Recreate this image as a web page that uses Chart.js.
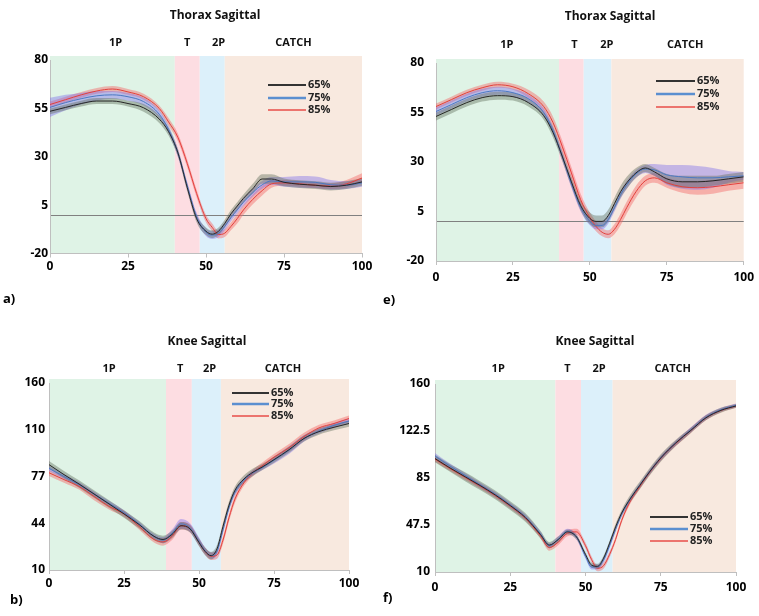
<!DOCTYPE html>
<html>
<head>
<meta charset="utf-8">
<script src="https://cdn.jsdelivr.net/npm/chart.js@4.4.1/dist/chart.umd.min.js"></script>
<style>
  body { margin:0; background:#fff; width:759px; height:616px; overflow:hidden; position:relative; }
  canvas { position:absolute; }
</style>
</head>
<body>
<canvas id="a" width="380" height="310" style="left:0;top:0;"></canvas>
<canvas id="e" width="379" height="310" style="left:380px;top:0;"></canvas>
<canvas id="b" width="380" height="306" style="left:0;top:310px;"></canvas>
<canvas id="f" width="379" height="306" style="left:380px;top:310px;"></canvas>
<script>
// % of stroke cycle (x values shared by every curve)
const PCT = [0, 5, 10, 15, 20, 25, 30, 35, 38, 41, 44, 47, 50, 52, 54, 56, 58, 60, 62, 65, 68, 71, 75, 80, 85, 90, 95, 100];

const SERIES_NAMES = ['65%', '75%', '85%'];
const PHASE_NAMES = ['1P', 'T', '2P', 'CATCH'];

// phase boundaries (% cycle) per panel
const A_PHASES = [0, 40, 48, 56, 100];
const E_PHASES = [0, 40, 48, 57, 100];
const B_PHASES = [0, 39, 47.6, 57.3, 100];
const F_PHASES = [0, 40, 48.5, 59, 100];

// a) Thorax sagittal
const A_65 = [53.5, 55.5, 57.5, 58.8, 58.8, 57.5, 55.3, 49.5, 43, 32, 14, -2, -8.5, -10, -8.5, -4.5, 0.5, 4.5, 8.5, 13.5, 18.5, 18.5, 16.8, 15.8, 15.3, 14.6, 15.3, 17];
const A_75 = [55.5, 58, 60, 61.5, 62, 61, 58.5, 52, 44, 32, 15, -1, -9, -10.5, -9.5, -6, -1.5, 2.5, 6.5, 11.5, 15.5, 17.5, 17, 17, 16.8, 15.5, 15.3, 16.5];
const A_85 = [57, 59.5, 62, 64, 65, 63.5, 61, 55, 48, 40, 26.5, 11, -2, -6.5, -10.2, -9.5, -6, -2, 2.5, 8, 12.5, 16, 16.5, 16, 15.3, 14.8, 16, 19];
const A_65_SD = [1.5, 1.5, 1.5, 1.5, 1.5, 1.5, 2, 2, 2, 2, 2, 2, 2, 2, 2, 2, 2, 2, 2, 2.5, 2.5, 2.5, 2, 2, 2, 2, 2, 2];
const A_75_SD = [5, 4, 3, 2.5, 2, 2, 2, 2, 2, 2, 2, 2, 2, 2, 2, 2, 2, 2, 2, 2, 2, 2, 2.5, 3, 3, 2.5, 2, 2];
const A_85_SD = [1.5, 1.5, 1.5, 1.5, 1.5, 1.5, 1.5, 1.5, 2, 2, 2, 2, 2, 2, 2, 2, 2, 2.5, 2.5, 2.5, 2.5, 2, 1.5, 1.5, 1.5, 1.5, 2, 2.5];

// e) Thorax sagittal
const E_65 = [53, 56.5, 60, 62.5, 63.5, 63, 60, 53.4, 45, 33, 20, 8, 1.5, 0, 0, 3, 9, 15, 19.5, 24.5, 27, 25, 21.5, 20, 20, 20.5, 21.5, 22.5];
const E_75 = [55.5, 59, 62.5, 65, 66, 65, 62, 55, 46, 33, 19, 7, 0, -2, -2, 1, 7, 13.5, 18.5, 24, 26.5, 26, 23.5, 22.5, 22, 22, 22.5, 23];
const E_85 = [58, 61.5, 65, 67.5, 69, 68, 64.5, 58, 50, 38, 24.5, 11, 2, -2.5, -5.5, -6.5, -4, 1, 7, 15, 20.5, 22, 19.5, 17.5, 17, 17.5, 18.5, 19.5];
const E_65_SD = [2, 2, 2, 2, 2, 2, 2, 2, 2.5, 2.5, 2.5, 2.5, 3, 3, 3, 3, 3, 3, 3, 2.5, 2, 2, 2.5, 3, 3, 2.5, 2.5, 2.5];
const E_75_SD = [2, 2, 2, 2, 2, 2, 2, 2, 2, 2, 2, 2, 2, 2, 2, 2, 2, 2, 2, 2, 2, 3, 5, 6, 6, 5, 3, 2];
const E_85_SD = [1.5, 1.5, 1.5, 1.5, 1.5, 1.5, 2, 2.5, 3, 3, 3, 3, 2.5, 2.5, 2, 2, 2.5, 3, 3, 3, 2.5, 2.5, 2.5, 3, 3.5, 3.5, 3, 3];

// b) Knee sagittal
const B_65 = [94.5, 86.5, 79, 71, 63, 55, 46.5, 37, 34.5, 38.5, 45.5, 43, 32, 25, 21.5, 27, 45, 62, 74, 83, 88.5, 92.5, 98.5, 106.5, 115.5, 121, 124.5, 127.5];
const B_75 = [91.5, 85, 78.5, 71, 63.5, 56, 47, 37, 34, 39.5, 47, 44, 33, 25.5, 21.5, 25, 42, 60, 72.5, 82, 88, 92, 98, 106, 115.5, 121.5, 126, 129.5];
const B_85 = [88, 82.5, 77, 69, 61, 55, 45, 34.5, 32.5, 37, 45.5, 43.5, 32.5, 25, 21, 22, 34, 52, 67, 80, 88, 93.5, 100.5, 108, 117, 124, 127.5, 131.5];
const B_65_SD = [3, 3, 3, 3, 3, 3, 3, 3, 3, 3, 3, 3, 3, 3, 3, 3, 3, 3, 3, 3, 3, 2.5, 2.5, 2.5, 2.5, 2.5, 2.5, 2.5];
const B_75_SD = [2, 2, 2, 2, 2, 2, 2, 2, 2.5, 3, 4, 3.5, 3, 2.5, 2.5, 2.5, 2.5, 2.5, 2.5, 2, 2, 2, 2.5, 3, 2.5, 2, 2, 2];
const B_85_SD = [2.5, 2.5, 2.5, 3, 2.5, 2.5, 2.5, 2.5, 3, 3, 3, 3, 3, 3, 3, 3, 3, 3, 3, 2.5, 2.5, 2.5, 2.5, 3, 3, 2.5, 2.5, 2.5];

// f) Knee sagittal
const F_65 = [100.5, 93, 86, 79, 71.5, 63, 53.5, 40, 31.5, 36, 42, 38, 24, 15.5, 14.5, 21, 33, 46, 57, 69, 79, 89, 101, 113, 123, 133, 139, 142.5];
const F_75 = [102.5, 94.5, 87, 79.5, 72, 63.5, 54, 40.5, 31, 36.5, 42.5, 38, 22.5, 14, 14, 19.5, 31, 44, 56, 68.5, 79, 89, 101, 113, 123.5, 133.5, 139.5, 143];
const F_85 = [100, 92.5, 85.5, 78.5, 71, 62.5, 53, 39, 29.5, 34, 41, 42, 31, 20, 13, 15, 24, 36, 51, 67, 78, 88.5, 100.5, 112.5, 123, 133, 139, 142.5];
const F_65_SD = [3, 3, 3.5, 3.5, 3.5, 3.5, 3.5, 3, 2.5, 2.5, 2, 2, 2, 2, 2, 2, 2, 2.5, 2.5, 3, 3, 3, 3, 2.5, 2, 2, 2, 1.5];
const F_75_SD = [2.5, 2, 2, 2, 2, 2, 2, 2, 2, 2, 2, 2, 2, 2, 2, 2, 2, 2, 2, 2, 2, 2, 2, 2, 2, 2, 1.5, 1.5];
const F_85_SD = [2, 2, 2, 2, 2, 2, 2, 2, 2.5, 2.5, 2.5, 2.5, 2.5, 2.5, 2.5, 2.5, 2.5, 2, 2, 2, 2, 2, 2, 2, 2, 2, 1.5, 1.5];

// tick labels
const A_TICKS = ['-20', '5', '30', '55', '80'];
const B_TICKS = ['10', '44', '77', '110', '160'];   // printed as-is, evenly spaced
const F_TICKS = ['10', '47.5', '85', '122.5', '160'];
const X_TICKS = ['0', '25', '50', '75', '100'];

const LINE_COLORS = ['#262626', '#4a78c2', '#e2403c'];
const BAND_COLORS = ['rgba(95,110,90,0.42)', 'rgba(125,110,235,0.42)', 'rgba(245,105,105,0.45)'];
const LEGEND_COLORS = ['#333333', '#5b8fd0', '#e84c48'];
const LEGEND_WIDTHS = [2, 2.5, 1.5];
const PHASE_COLORS = ['#dff3e6', '#fddde2', '#dcf0fa', '#f8e9df'];

const FONT = "'Open Sans', Lato, sans-serif";
Chart.defaults.font.family = FONT;
Chart.defaults.color = '#000';

const panels = [
  { id: 'a', title: 'Thorax Sagittal', letter: 'a)', w: 380, h: 310,
    means: [A_65, A_75, A_85], sds: [A_65_SD, A_75_SD, A_85_SD],
    yMin: -20, yMax: 80, yTicks: A_TICKS, phases: A_PHASES, zero: true,
    area: { left: 50, right: 362, top: 60, bottom: 253.5 }, yPad: 2, xPad: 2,
    titleAt: [215, 16], phaseY: 43, phaseX: [21, 44, 54, 78],
    legend: { x0: 268, x1: 306, ys: [85, 98, 110] }, letterAt: [3, 299] },
  { id: 'e', title: 'Thorax Sagittal', letter: 'e)', w: 379, h: 310,
    means: [E_65, E_75, E_85], sds: [E_65_SD, E_75_SD, E_85_SD],
    yMin: -20, yMax: 80, yTicks: A_TICKS, phases: E_PHASES, zero: true,
    area: { left: 56, right: 372, top: 63, bottom: 261 }, yPad: 12, xPad: 5,
    titleAt: [230, 17], phaseY: 45, phaseX: [23, 45, 55.5, 81],
    legend: { x0: 276, x1: 315, ys: [81, 94, 107] }, letterAt: [3, 300] },
  { id: 'b', title: 'Knee Sagittal', letter: 'b)', w: 380, h: 306,
    means: [B_65, B_75, B_85], sds: [B_65_SD, B_75_SD, B_85_SD],
    yMin: 10, yMax: 160, yTicks: B_TICKS, phases: B_PHASES, zero: false,
    area: { left: 49, right: 349, top: 73, bottom: 260 }, yPad: 4, xPad: 2,
    titleAt: [207, 32], phaseY: 59, phaseX: [20, 43.7, 53.5, 78],
    legend: { x0: 232, x1: 269, ys: [83, 94, 106] }, letterAt: [10, 290] },
  { id: 'f', title: 'Knee Sagittal', letter: 'f)', w: 379, h: 306,
    means: [F_65, F_75, F_85], sds: [F_65_SD, F_75_SD, F_85_SD],
    yMin: 10, yMax: 160, yTicks: F_TICKS, phases: F_PHASES, zero: false,
    area: { left: 55, right: 356, top: 74, bottom: 262 }, yPad: 5, xPad: 4,
    titleAt: [215, 32], phaseY: 59, phaseX: [21, 44, 54.5, 79],
    legend: { x0: 270, x1: 308, ys: [207, 219, 231] }, letterAt: [3, 288] },
];

const Y_W = 44, X_H = 30;

// phase shading, zero line, titles, legend
const panelDecor = {
  id: 'panelDecor',
  beforeDraw(chart, args, p) {
    const { ctx, chartArea: ca, scales: { x, y } } = chart;
    ctx.save();
    for (let i = 0; i < 4; i++) {
      const x0 = x.getPixelForValue(p.phases[i]);
      const x1 = x.getPixelForValue(p.phases[i + 1]);
      ctx.fillStyle = PHASE_COLORS[i];
      ctx.fillRect(x0, ca.top - 4, x1 - x0, ca.bottom - ca.top + 4);
    }
    if (p.zero) {
      const yz = Math.round(y.getPixelForValue(0)) + 0.5;
      ctx.strokeStyle = '#808080';
      ctx.lineWidth = 1;
      ctx.beginPath();
      ctx.moveTo(ca.left, yz);
      ctx.lineTo(ca.right, yz);
      ctx.stroke();
    }
    ctx.restore();
  },
  afterDraw(chart, args, p) {
    const { ctx, scales: { x } } = chart;
    ctx.save();
    ctx.fillStyle = '#111';
    ctx.textBaseline = 'middle';
    ctx.textAlign = 'center';
    ctx.font = `bold 12px ${FONT}`;
    ctx.fillText(p.title, p.titleAt[0], p.titleAt[1]);
    ctx.font = `bold 11px ${FONT}`;
    PHASE_NAMES.forEach((n, i) => ctx.fillText(n, x.getPixelForValue(p.phaseX[i]), p.phaseY));

    // legend
    ctx.textAlign = 'left';
    SERIES_NAMES.forEach((n, i) => {
      const ly = p.legend.ys[i];
      ctx.strokeStyle = LEGEND_COLORS[i];
      ctx.lineWidth = LEGEND_WIDTHS[i];
      ctx.beginPath();
      ctx.moveTo(p.legend.x0, ly);
      ctx.lineTo(p.legend.x1, ly);
      ctx.stroke();
      ctx.fillStyle = '#222';
      ctx.fillText(n, p.legend.x1 + 2, ly);
    });

    ctx.font = `bold 13px ${FONT}`;
    ctx.fillStyle = '#000';
    ctx.fillText(p.letter, p.letterAt[0], p.letterAt[1]);
    ctx.restore();
  }
};

function pts(ys) {
  return PCT.map((x, i) => ({ x, y: ys[i] }));
}

function buildDatasets(p) {
  const sets = [];
  // bands: upper edge, then lower edge filled up to it
  p.means.forEach((m, k) => {
    const up = m.map((v, i) => v + p.sds[k][i]);
    const lo = m.map((v, i) => v - p.sds[k][i]);
    const upIdx = sets.length;
    sets.push({ data: pts(up), borderWidth: 0, pointRadius: 0, fill: false, order: 2,
      cubicInterpolationMode: 'monotone' });
    sets.push({ data: pts(lo), borderWidth: 0, pointRadius: 0, fill: upIdx, order: 2,
      backgroundColor: BAND_COLORS[k], cubicInterpolationMode: 'monotone' });
  });
  p.means.forEach((m, k) => {
    sets.push({ label: SERIES_NAMES[k], data: pts(m), borderColor: LINE_COLORS[k], borderWidth: 1,
      pointRadius: 0, fill: false, order: 1, cubicInterpolationMode: 'monotone' });
  });
  return sets;
}

panels.forEach(p => {
  const step = (p.yMax - p.yMin) / 4;
  new Chart(document.getElementById(p.id), {
    type: 'line',
    data: { datasets: buildDatasets(p) },
    plugins: [panelDecor],
    options: {
      responsive: false,
      animation: false,
      events: [],
      layout: {
        autoPadding: false,
        padding: {
          left: p.area.left - Y_W,
          right: p.w - p.area.right,
          top: p.area.top,
          bottom: p.h - p.area.bottom - X_H,
        }
      },
      plugins: {
        legend: { display: false },
        tooltip: { enabled: false },
        panelDecor: p,
      },
      scales: {
        x: {
          type: 'linear', min: 0, max: 100,
          afterFit: s => { s.height = X_H; },
          grid: { drawOnChartArea: false, drawTicks: true, tickLength: 4, color: '#bfbfbf' },
          border: { color: '#bfbfbf' },
          ticks: { stepSize: 25, padding: p.xPad, maxRotation: 0, autoSkip: false,
            font: { size: 12, weight: 'bold' }, callback: (v, i) => X_TICKS[i] },
        },
        y: {
          min: p.yMin, max: p.yMax,
          afterFit: s => { s.width = Y_W; },
          grid: { drawOnChartArea: false, drawTicks: false, color: '#bfbfbf' },
          border: { color: '#bfbfbf' },
          ticks: { stepSize: step, padding: p.yPad, autoSkip: false,
            font: { size: 12, weight: 'bold' }, callback: (v, i) => p.yTicks[i] },
        }
      }
    }
  });
});
</script>
</body>
</html>
